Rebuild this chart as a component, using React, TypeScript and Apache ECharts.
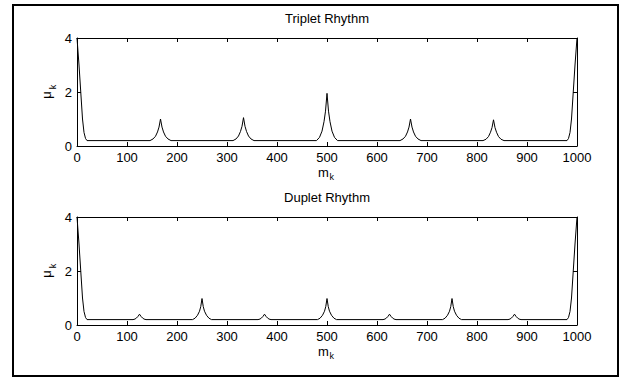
import React, { useEffect, useRef } from "react";
import * as echarts from "echarts";

const titles = ["Triplet Rhythm", "Duplet Rhythm"];
const xTicks = { min: 0, max: 1000, interval: 100 };
const yTicks = { min: 0, max: 4, interval: 2 };

const tripletK = [
  0, 4, 7.5, 11, 14, 17, 20,
  146, 152, 157, 161, 164, 167, 170, 173, 177, 182, 188,
  312, 318, 323, 327, 330, 333, 336, 339, 343, 348, 354,
  479, 485, 490, 494, 497, 500, 503, 506, 510, 515, 521,
  646, 652, 657, 661, 664, 667, 670, 673, 677, 682, 688,
  812, 818, 823, 827, 830, 833, 836, 839, 843, 848, 854,
  980, 983, 986, 989, 992.5, 996, 1000,
];
const tripletMu = [
  4, 3, 2, 1, 0.5, 0.28, 0.2,
  0.2, 0.26, 0.36, 0.52, 0.7, 1.0, 0.7, 0.52, 0.36, 0.26, 0.2,
  0.2, 0.26, 0.37, 0.54, 0.73, 1.05, 0.73, 0.54, 0.37, 0.26, 0.2,
  0.2, 0.32, 0.55, 0.9, 1.29, 1.95, 1.29, 0.9, 0.55, 0.32, 0.2,
  0.2, 0.26, 0.36, 0.52, 0.7, 1.0, 0.7, 0.52, 0.36, 0.26, 0.2,
  0.2, 0.25, 0.35, 0.51, 0.68, 0.97, 0.68, 0.51, 0.35, 0.25, 0.2,
  0.2, 0.28, 0.5, 1, 2, 3, 4,
];

const dupletK = [
  0, 4, 7.5, 11, 14, 17, 20,
  112, 116, 119, 122, 125, 128, 131, 134, 138,
  231, 236, 241, 245, 247.5, 250, 252.5, 255, 259, 264, 269,
  362, 366, 369, 372, 375, 378, 381, 384, 388,
  481, 486, 491, 495, 497.5, 500, 502.5, 505, 509, 514, 519,
  612, 616, 619, 622, 625, 628, 631, 634, 638,
  731, 736, 741, 745, 747.5, 750, 752.5, 755, 759, 764, 769,
  862, 866, 869, 872, 875, 878, 881, 884, 888,
  980, 983, 986, 989, 992.5, 996, 1000,
];
const dupletMu = [
  4, 3, 2, 1, 0.5, 0.28, 0.2,
  0.2, 0.22, 0.26, 0.32, 0.4, 0.32, 0.26, 0.22, 0.2,
  0.2, 0.25, 0.36, 0.51, 0.68, 0.98, 0.68, 0.51, 0.36, 0.25, 0.2,
  0.2, 0.22, 0.26, 0.32, 0.4, 0.32, 0.26, 0.22, 0.2,
  0.2, 0.25, 0.36, 0.51, 0.68, 0.98, 0.68, 0.51, 0.36, 0.25, 0.2,
  0.2, 0.22, 0.26, 0.32, 0.4, 0.32, 0.26, 0.22, 0.2,
  0.2, 0.25, 0.36, 0.51, 0.68, 0.98, 0.68, 0.51, 0.36, 0.25, 0.2,
  0.2, 0.22, 0.26, 0.32, 0.4, 0.32, 0.26, 0.22, 0.2,
  0.2, 0.28, 0.5, 1, 2, 3, 4,
];

const FONT = "Liberation Sans, Arial, Helvetica, sans-serif";

function zip(a: number[], b: number[]) {
  return a.map((v, i) => [v, b[i]]);
}

export default function App() {
  const ref = useRef<HTMLDivElement>(null);
  useEffect(() => {
    if (!ref.current) return;
    const chart = echarts.init(ref.current, undefined, { renderer: "svg" });
    const gridTops = [38, 217];
    const gridH = 108;
    const left = 77;
    const width = 500;

    const grids = gridTops.map((t) => ({ left, top: t, width, height: gridH }));
    const xAxes: any[] = [];
    const yAxes: any[] = [];
    const lbl = { show: true, color: "#000", fontSize: 13, fontFamily: FONT, margin: 5, formatter: (v: number) => String(v) };
    gridTops.forEach((_, g) => {
      const base = {
        gridIndex: g,
        type: "value",
        ...xTicks,
        axisLine: { show: true, onZero: false, lineStyle: { color: "#000", width: 1 } },
        axisTick: { show: true, inside: true, length: 4, lineStyle: { color: "#000" } },
        splitLine: { show: false },
      };
      xAxes.push({ ...base, position: "bottom", axisLabel: lbl });
      xAxes.push({ ...base, position: "top", axisLabel: { show: false } });
      const ybase = {
        gridIndex: g,
        type: "value",
        ...yTicks,
        axisLine: { show: true, onZero: false, lineStyle: { color: "#000", width: 1 } },
        axisTick: { show: true, inside: true, length: 4, lineStyle: { color: "#000" } },
        splitLine: { show: false },
      };
      yAxes.push({ ...ybase, position: "left", axisLabel: lbl });
      yAxes.push({ ...ybase, position: "right", axisLabel: { show: false } });
    });

    const datasets = [zip(tripletK, tripletMu), zip(dupletK, dupletMu)];
    const series = datasets.map((d, g) => ({
      type: "line",
      xAxisIndex: g * 2,
      yAxisIndex: g * 2,
      data: d,
      showSymbol: false,
      symbol: "none",
      smooth: false,
      lineStyle: { color: "#000", width: 1 },
    }));

    const graphics: any[] = [
      {
        type: "rect",
        shape: { x: 13, y: 5, width: 605, height: 371 },
        style: { fill: "none", stroke: "#000", lineWidth: 2 },
        silent: true,
      },
    ];
    gridTops.forEach((t) => {
      graphics.push({
        type: "text",
        x: 318,
        y: t + gridH + 26,
        style: { text: "m", fontSize: 13, fontFamily: FONT, fill: "#000", textVerticalAlign: "middle" },
      });
      graphics.push({
        type: "text",
        x: 329.5,
        y: t + gridH + 31,
        style: { text: "k", fontSize: 9, fontFamily: FONT, fill: "#000", textVerticalAlign: "middle" },
      });
      graphics.push({
        type: "group",
        x: 48,
        y: t + gridH / 2,
        rotation: Math.PI / 2,
        children: [
          {
            type: "text",
            x: -3,
            y: -2,
            style: { text: "μ", fontSize: 13, fontFamily: FONT, fill: "#000", textAlign: "center", textVerticalAlign: "middle" },
          },
          {
            type: "text",
            x: 5,
            y: 5,
            style: { text: "k", fontSize: 9, fontFamily: FONT, fill: "#000", textAlign: "center", textVerticalAlign: "middle" },
          },
        ],
      });
    });

    chart.setOption({
      animation: false,
      backgroundColor: "#fff",
      title: titles.map((txt, i) => ({
        text: txt,
        left: left + width / 2,
        top: gridTops[i] - 26,
        textAlign: "center",
        padding: 0,
        textStyle: { fontSize: 13, fontWeight: "normal", color: "#000", fontFamily: FONT },
      })),
      grid: grids,
      xAxis: xAxes,
      yAxis: yAxes,
      series,
      graphic: graphics,
    });
    return () => chart.dispose();
  }, []);
  return (
    <div
      ref={ref}
      style={{ position: "fixed", left: 0, top: 0, width: 630, height: 381, background: "#fff" }}
    />
  );
}
